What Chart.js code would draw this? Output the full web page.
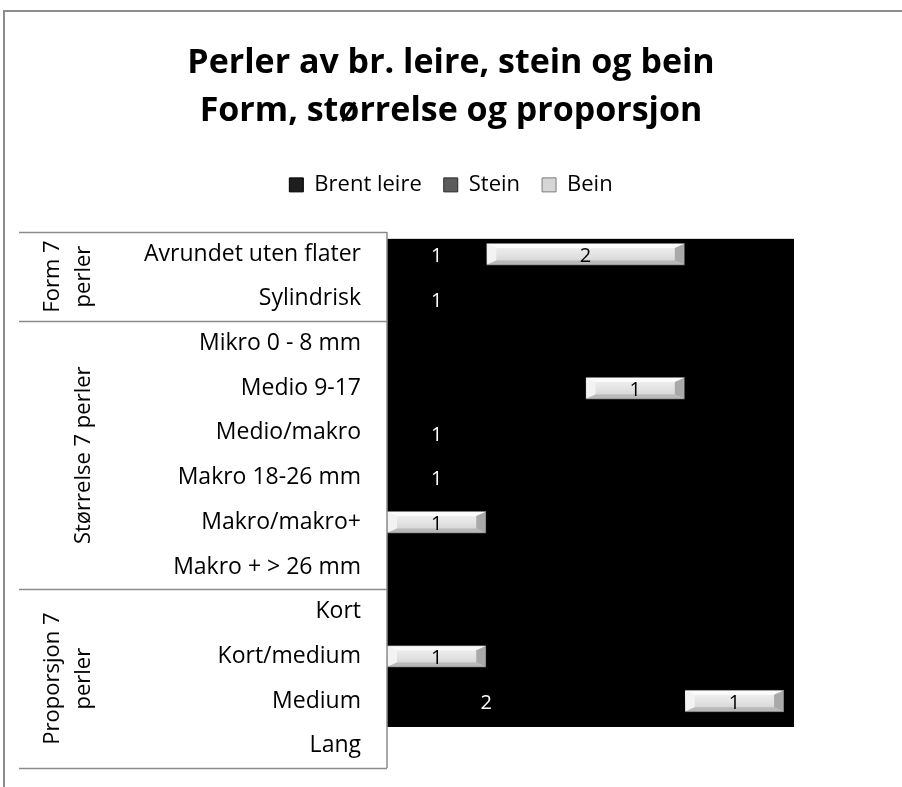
<!DOCTYPE html>
<html>
<head>
<meta charset="utf-8">
<script src="https://cdn.jsdelivr.net/npm/chart.js@4.4.1/dist/chart.umd.min.js"></script>
<style>
  html, body { margin: 0; padding: 0; background: #fff; }
  #wrap { position: absolute; left: 0; top: 0; width: 902px; height: 787px; }
</style>
</head>
<body>
<div id="wrap"><canvas id="c" width="902" height="787"></canvas></div>
<script>
// ---- data ----
const categories = [
  "Avrundet uten flater", "Sylindrisk",
  "Mikro 0 - 8 mm", "Medio 9-17", "Medio/makro", "Makro 18-26 mm", "Makro/makro+", "Makro + > 26 mm",
  "Kort", "Kort/medium", "Medium", "Lang"
];
const groupLabels = [["Form 7", "perler"], ["Størrelse 7 perler"], ["Proporsjon 7", "perler"]];
const groupSizes = [2, 6, 4];
const seriesNames = ["Brent leire", "Stein", "Bein"];
const brentLeire = [1, 1, null, null, 1, 1, null, null, null, null, 2, null];
const stein      = [null, null, null, 2, null, null, null, null, null, null, 1, null];
const bein       = [2, null, null, 1, null, null, 1, null, null, 1, 1, null];
const titleLines = ["Perler av br. leire, stein og bein", "Form, størrelse og proporsjon"];

// ---- styles ----
const FONT = "'Open Sans', Lato, sans-serif";
const legendFill = ["#1e1e1e", "#5c5c5c", "#d6d6d6"];
const legendStroke = ["#000000", "#2a2a2a", "#7a7a7a"];
const labelColors = ["#ffffff", "#000000", "#000000"];
const BEIN_INDEX = 2;

function beinGradient(c) {
  const chart = c.chart;
  const ys = chart.scales && chart.scales.y;
  if (!ys || c.dataIndex === undefined || !chart.chartArea) return "#dcdcdc";
  const yc = ys.getPixelForValue(c.dataIndex);
  const half = (chart.chartArea.bottom - chart.chartArea.top) / categories.length * 0.25;
  const g = chart.ctx.createLinearGradient(0, yc - half, 0, yc + half);
  g.addColorStop(0, "#f4f4f4");
  g.addColorStop(0.5, "#e4e4e4");
  g.addColorStop(1, "#cfcfcf");
  return g;
}

const framePlugin = {
  id: "frame",
  beforeDraw(chart) {
    const ctx = chart.ctx;
    ctx.save();
    ctx.strokeStyle = "#8c8c8c";
    ctx.lineWidth = 2;
    ctx.beginPath();
    ctx.moveTo(4, 800);
    ctx.lineTo(4, 11);
    ctx.lineTo(910, 11);
    ctx.stroke();
    ctx.restore();
  }
};

const plotBgPlugin = {
  id: "plotBg",
  beforeDatasetsDraw(chart) {
    const {ctx, chartArea: a} = chart;
    const h = a.bottom - a.top;
    ctx.save();
    ctx.fillStyle = "#000000";
    ctx.fillRect(a.left, a.top + h * 0.013, a.right - a.left, h * (0.9235 - 0.013));
    ctx.restore();
  }
};

function poly(ctx, pts, color) {
  ctx.fillStyle = color;
  ctx.beginPath();
  ctx.moveTo(pts[0][0], pts[0][1]);
  for (let k = 1; k < pts.length; k++) ctx.lineTo(pts[k][0], pts[k][1]);
  ctx.closePath();
  ctx.fill();
}

const bevelPlugin = {
  id: "bevel",
  afterDatasetsDraw(chart) {
    const ctx = chart.ctx;
    const meta = chart.getDatasetMeta(BEIN_INDEX);
    ctx.save();
    meta.data.forEach((el, j) => {
      const v = chart.data.datasets[BEIN_INDEX].data[j];
      if (v === null || v === undefined || v === 0) return;
      const x0 = Math.min(el.base, el.x) + 1, x1 = Math.max(el.base, el.x) - 1;
      const y0 = el.y - el.height / 2 + 1, y1 = el.y + el.height / 2 - 1;
      const bx = 9, by = 4;
      // left bevel (light)
      poly(ctx, [[x0, y0], [x0 + bx, y0 + by], [x0 + bx, y1 - by], [x0, y1]], "#f3f3f3");
      // top bevel (lightest)
      poly(ctx, [[x0, y0], [x1, y0], [x1 - bx, y0 + by], [x0 + bx, y0 + by]], "#fbfbfb");
      // bottom bevel (darker)
      poly(ctx, [[x0, y1], [x1, y1], [x1 - bx, y1 - by], [x0 + bx, y1 - by]], "#b9b9b9");
      // right bevel (darkest)
      poly(ctx, [[x1, y0], [x1, y1], [x1 - bx, y1 - by], [x1 - bx, y0 + by]], "#a9a9a9");
    });
    ctx.restore();
  }
};

const valueLabelPlugin = {
  id: "valueLabels",
  afterDatasetsDraw(chart) {
    const ctx = chart.ctx;
    ctx.save();
    ctx.font = "20px " + FONT;
    ctx.textAlign = "center";
    ctx.textBaseline = "middle";
    chart.data.datasets.forEach((ds, i) => {
      const meta = chart.getDatasetMeta(i);
      meta.data.forEach((el, j) => {
        const v = ds.data[j];
        if (v === null || v === undefined || v === 0) return;
        const p = el.getCenterPoint();
        ctx.fillStyle = labelColors[i];
        ctx.fillText(String(v), p.x, p.y + 2);
      });
    });
    ctx.restore();
  }
};

const groupAxisPlugin = {
  id: "groupAxis",
  afterDraw(chart) {
    const {ctx, chartArea: a} = chart;
    const ys = chart.scales.y;
    const band = (a.bottom - a.top) / categories.length;
    ctx.save();
    ctx.strokeStyle = "#8c8c8c";
    ctx.lineWidth = 1.5;
    ctx.beginPath();
    ctx.moveTo(a.left, a.top);
    ctx.lineTo(a.left, a.bottom);
    ctx.stroke();
    let idx = 0;
    const bounds = [a.top];
    groupSizes.forEach(n => { idx += n; bounds.push(ys.getPixelForValue(idx - 1) + band / 2); });
    bounds.forEach(y => {
      ctx.beginPath();
      ctx.moveTo(19, Math.round(y) + 0.5);
      ctx.lineTo(a.left, Math.round(y) + 0.5);
      ctx.stroke();
    });
    ctx.fillStyle = "#000";
    ctx.font = "22px " + FONT;
    ctx.textAlign = "center";
    ctx.textBaseline = "middle";
    for (let g = 0; g < groupLabels.length; g++) {
      const yc = (bounds[g] + bounds[g + 1]) / 2;
      const lines = groupLabels[g];
      const lh = 31;
      ctx.save();
      const xc = lines.length === 1 ? 84 : 68;
      ctx.translate(xc, yc);
      ctx.rotate(-Math.PI / 2);
      lines.forEach((t, k) => {
        ctx.fillText(t, 0, (k - (lines.length - 1) / 2) * lh);
      });
      ctx.restore();
    }
    ctx.restore();
  }
};

new Chart(document.getElementById("c"), {
  type: "bar",
  data: {
    labels: categories,
    datasets: [
      { label: seriesNames[0], data: brentLeire, backgroundColor: "#000000", borderWidth: 0 },
      { label: seriesNames[1], data: stein, backgroundColor: "#000000", borderWidth: 0 },
      { label: seriesNames[2], data: bein, backgroundColor: beinGradient, borderColor: "#7f7f7f", borderWidth: 1 }
    ]
  },
  options: {
    indexAxis: "y",
    responsive: false,
    animation: false,
    events: [],
    barPercentage: 0.5,
    categoryPercentage: 1.0,
    layout: { padding: { left: 0, right: 0, top: 0, bottom: 19 } },
    scales: {
      x: {
        position: "top",
        stacked: true,
        min: 0,
        max: 4.1,
        grid: { display: false, drawTicks: false },
        border: { display: false },
        ticks: { display: false },
        afterFit(scale) { scale.height = 26; }
      },
      y: {
        stacked: true,
        grid: { display: false, drawTicks: true, tickLength: 23 },
        border: { display: false },
        ticks: { color: "#000", font: { family: FONT, size: 23 }, padding: 3, autoSkip: false },
        afterFit(scale) { scale.width = 387; }
      },
      yRight: {
        type: "category",
        labels: categories,
        position: "right",
        display: true,
        grid: { display: false, drawTicks: false },
        border: { display: false },
        ticks: { display: false },
        afterFit(scale) { scale.width = 108; }
      }
    },
    plugins: {
      title: {
        display: true,
        text: titleLines,
        color: "#000",
        font: { family: FONT, size: 34, weight: "bold", lineHeight: 1.41 },
        padding: { top: 39, bottom: 17 }
      },
      legend: {
        display: true,
        position: "top",
        labels: {
          color: "#000",
          font: { family: FONT, size: 22 },
          boxWidth: 14,
          boxHeight: 14,
          padding: 22,
          generateLabels(chart) {
            return chart.data.datasets.map((ds, i) => ({
              text: ds.label,
              fillStyle: legendFill[i],
              strokeStyle: legendStroke[i],
              lineWidth: 1,
              hidden: false,
              datasetIndex: i,
              fontColor: "#000"
            }));
          }
        }
      },
      tooltip: { enabled: false }
    }
  },
  plugins: [framePlugin, plotBgPlugin, bevelPlugin, valueLabelPlugin, groupAxisPlugin]
});
</script>
</body>
</html>
